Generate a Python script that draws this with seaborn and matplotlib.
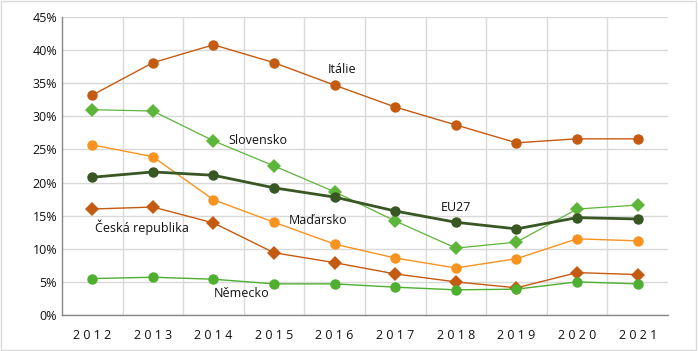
"""Podíl ... v letech 2012–2021: EU27 a vybrané země."""
import matplotlib
matplotlib.use("Agg")
import matplotlib.pyplot as plt
import numpy as np
import pandas as pd
import seaborn as sns
from matplotlib.patches import Rectangle
from matplotlib.ticker import FuncFormatter, MultipleLocator

years = [2012, 2013, 2014, 2015, 2016, 2017, 2018, 2019, 2020, 2021]

italie = [33.2, 38.1, 40.8, 38.1, 34.7, 31.4, 28.7, 26.0, 26.6, 26.6]
slovensko = [31.0, 30.8, 26.3, 22.5, 18.6, 14.2, 10.1, 11.0, 16.0, 16.6]
madarsko = [25.7, 23.9, 17.4, 14.0, 10.7, 8.6, 7.1, 8.5, 11.5, 11.2]
eu27 = [20.8, 21.6, 21.1, 19.2, 17.8, 15.7, 14.0, 13.0, 14.7, 14.5]
cesko = [16.0, 16.3, 13.9, 9.4, 7.9, 6.2, 5.0, 4.1, 6.4, 6.1]
nemecko = [5.5, 5.7, 5.4, 4.7, 4.7, 4.2, 3.8, 3.9, 5.0, 4.7]

series = {
    "Itálie": italie,
    "Slovensko": slovensko,
    "Maďarsko": madarsko,
    "EU27": eu27,
    "Česká republika": cesko,
    "Německo": nemecko,
}

# styl: barva, marker, velikost markeru, šířka čáry
styles = {
    "Itálie": ("#C55A11", "o", 7.5, 1.0),
    "Slovensko": ("#5DB53A", "D", 7.0, 0.9),
    "Maďarsko": ("#F7931E", "o", 7.5, 1.0),
    "EU27": ("#385723", "o", 7.5, 2.0),
    "Česká republika": ("#C55A11", "D", 7.0, 1.0),
    "Německo": ("#4EAF30", "o", 7.5, 1.0),
}

# popisky přímo v grafu (x v letech, y v %)
labels = {
    "Itálie": (2015.88, 37.0),
    "Slovensko": (2014.25, 26.3),
    "EU27": (2017.75, 16.2),
    "Maďarsko": (2015.25, 14.2),
    "Česká republika": (2012.05, 13.2),
    "Německo": (2014.0, 3.2),
}

df = pd.DataFrame([
    {"rok": y, "zeme": name, "hodnota": v}
    for name, vals in series.items() for y, v in zip(years, vals)
])

sns.set_style("white")
plt.rcParams["font.family"] = ["Open Sans", "DejaVu Sans"]

fig = plt.figure(figsize=(6.98, 3.51), dpi=100)
ax = fig.add_axes([0.0888, 0.1026, 0.8682, 0.849])

for name in series:
    color, marker, ms, lw = styles[name]
    sns.lineplot(data=df[df["zeme"] == name], x="rok", y="hodnota", ax=ax,
                 color=color, marker=marker, markersize=ms, linewidth=lw,
                 markeredgewidth=0, zorder=3 if name != "EU27" else 4)

for name, (x, y) in labels.items():
    ax.text(x, y, name, fontsize=9, color="#111111", va="center", ha="left")

ax.set_xlim(2011.5, 2021.5)
ax.set_ylim(0, 45)
ax.yaxis.set_major_locator(MultipleLocator(5))
ax.yaxis.set_major_formatter(FuncFormatter(lambda v, _: f"{v:.0f}%"))
ax.set_xticks(years)
ax.set_xticklabels([" ".join(str(y)) for y in years])
ax.set_xticks(np.arange(2012.5, 2021.5, 1), minor=True)
ax.grid(axis="y", which="major", color="#D9D9D9", lw=1)
ax.grid(axis="x", which="minor", color="#D9D9D9", lw=1)
ax.set_axisbelow(True)
ax.tick_params(axis="both", which="both", length=0, labelsize=9, colors="#111111")
ax.tick_params(axis="x", pad=10)
ax.set_xlabel(""); ax.set_ylabel("")
for s in ["top", "right"]:
    ax.spines[s].set_visible(False)
for s in ["left", "bottom"]:
    ax.spines[s].set_color("#868686")
    ax.spines[s].set_linewidth(1)

fig.patches.append(Rectangle((0.001, 0.002), 0.996, 0.994, transform=fig.transFigure,
                             fill=False, edgecolor="#D9D9D9", lw=1))

plt.savefig("out.png", dpi=100)
plt.close()
